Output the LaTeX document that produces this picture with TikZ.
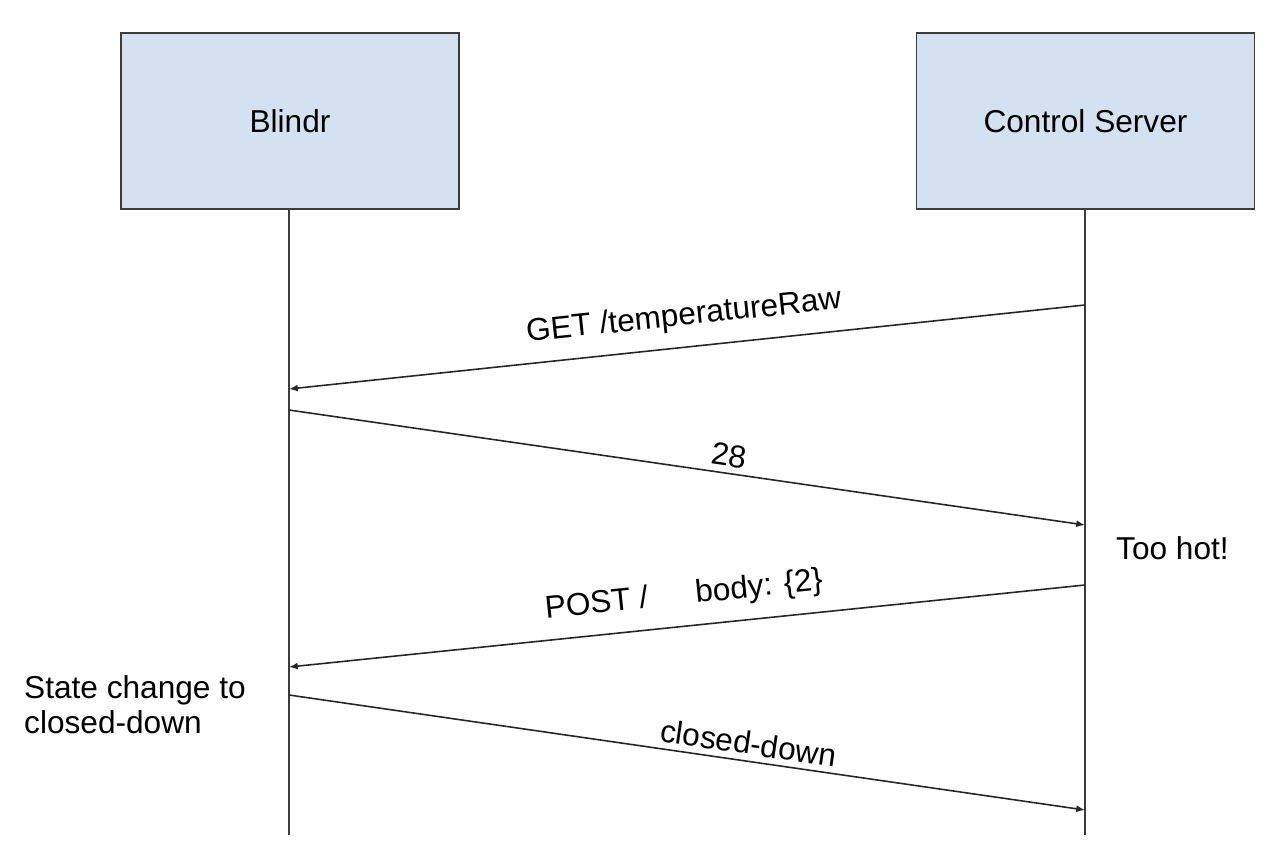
\documentclass[tikz,border=0pt]{standalone}
\usepackage{fontspec}
\setmainfont{Liberation Sans}
\usetikzlibrary{arrows.meta}
\definecolor{boxblue}{HTML}{D4E1F1}
\definecolor{linegray}{HTML}{3C3C3C}
\tikzset{
  actor/.style={draw=linegray,line width=0.8pt,fill=boxblue,minimum width=6.76cm,minimum height=3.52cm},
  msg/.style={draw=black!85,line width=0.9pt,-{Latex[length=5pt,width=4pt]}},
  life/.style={draw=linegray,line width=0.7pt},
  lbl/.style={sloped,above}
}
\begin{document}
\begin{tikzpicture}[x=0.02cm,y=-0.02cm,font=\fontsize{18}{20}\selectfont]
  \useasboundingbox (0,0) rectangle (1288,862);
  %% the two actors
  \node[actor] (blindr) at (290,121) {Blindr};
  \node[actor] (server) at (1085.5,121) {Control Server};
  %% lifelines
  \coordinate (blindrend) at (289,835);
  \coordinate (serverend) at (1085,835);
  \draw[life] (blindr.south -| blindrend) -- (blindrend);
  \draw[life] (server.south -| serverend) -- (serverend);
  %% points on the lifelines
  \coordinate (s1) at (1085,305); \coordinate (b1) at (289,389);
  \coordinate (b2) at (289,410);  \coordinate (s2) at (1085,525);
  \coordinate (s3) at (1085,585); \coordinate (b3) at (289,667);
  \coordinate (b4) at (289,695);  \coordinate (s4) at (1085,810);
  %% messages
  \draw[msg] (s1) -- node[lbl,pos=0.5,yshift=5pt] (get) {GET /temperatureRaw} (b1);
  \draw[msg] (b2) -- node[lbl,pos=0.55] (temp) {28} (s2);
  \draw[msg] (s3) -- node[lbl,pos=0.5,yshift=5pt] (post) {POST /\hspace{1.5em}body: \{2\}} (b3);
  \draw[msg] (b4) -- node[lbl,pos=0.574] (closed) {closed-down} (s4);
  %% notes
  \node[anchor=west] (hot) at (1110,548) {Too hot!};
  \node[anchor=west,align=left] (state) at (18,705) {State change to\\closed-down};
\end{tikzpicture}
\end{document}
